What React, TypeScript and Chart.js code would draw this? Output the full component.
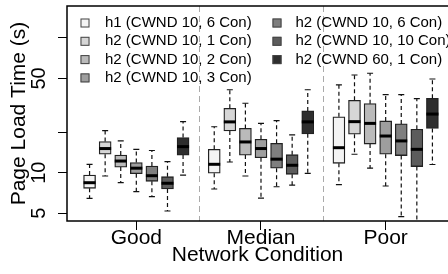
import React, { useEffect, useRef } from 'react';
import { Chart, registerables } from 'chart.js';

Chart.register(...registerables);

const FONT = '"Liberation Sans", Arial, Helvetica, sans-serif';

const categories = ['Good', 'Median', 'Poor'];
const categoryPositions = [1, 2, 3];

const seriesLabels = [
  'h1 (CWND 10, 6 Con)',
  'h2 (CWND 10, 1 Con)',
  'h2 (CWND 10, 2 Con)',
  'h2 (CWND 10, 3 Con)',
  'h2 (CWND 10, 6 Con)',
  'h2 (CWND 10, 10 Con)',
  'h2 (CWND 60, 1 Con)',
];
const seriesColors = ['#f4f4f4', '#d6d6d6', '#bababa', '#9e9e9e', '#7f7f7f', '#5c5c5c', '#2e2e2e'];

// [series][Good, Median, Poor]
const whiskerLow = [
  [6.46, 7.57, 8.15],
  [9.45, 12.0, 13.7],
  [8.43, 9.45, 10.8],
  [7.23, 6.49, 7.97],
  [6.64, 7.87, 4.72],
  [5.2, 8.1, 4.0],
  [9.61, 9.9, 11.5],
];
const quartile1 = [
  [7.66, 9.9, 11.74],
  [13.7, 20.4, 19.3],
  [11.0, 13.5, 16.3],
  [9.83, 12.9, 13.7],
  [8.63, 10.8, 13.4],
  [7.57, 9.73, 11.1],
  [13.5, 19.4, 21.3],
];
const medians = [
  [8.43, 11.54, 15.32],
  [15.1, 23.8, 23.9],
  [12.2, 16.9, 23.2],
  [10.8, 15.1, 18.7],
  [9.5, 12.6, 17.2],
  [8.35, 11.35, 14.9],
  [15.6, 23.8, 27.2],
];
const quartile3 = [
  [9.61, 14.91, 26.0],
  [17.0, 30.0, 34.4],
  [13.5, 21.3, 32.5],
  [11.9, 17.7, 24.2],
  [11.2, 16.5, 23.0],
  [9.34, 13.6, 21.0],
  [18.2, 28.7, 35.6],
];
const whiskerHigh = [
  [11.54, 21.9, 44.7],
  [20.5, 41.2, 53.0],
  [17.2, 32.7, 54.6],
  [14.9, 23.2, 37.9],
  [14.6, 24.3, 37.9],
  [12.1, 19.1, 35.4],
  [23.9, 41.2, 49.5],
];

const yTicks = [5, 10, 20, 50, 100];
const yTickLabels = ['5', '10', '', '50', ''];

const boxPlugin = {
  id: 'boxWhiskers',
  beforeDatasetsDraw(chart: any) {
    const { ctx, chartArea, scales } = chart;
    ctx.save();
    ctx.strokeStyle = '#aaaaaa';
    ctx.lineWidth = 1;
    ctx.setLineDash([6, 4]);
    [1.5, 2.5].forEach((v) => {
      const x = Math.round(scales.x.getPixelForValue(v)) + 0.5;
      ctx.beginPath();
      ctx.moveTo(x, chartArea.top);
      ctx.lineTo(x, chartArea.bottom);
      ctx.stroke();
    });
    ctx.restore();
  },
  afterDatasetsDraw(chart: any) {
    const { ctx, chartArea, scales } = chart;
    const ys = scales.y;
    ctx.save();
    ctx.beginPath();
    ctx.rect(chartArea.left, chartArea.top, chartArea.right - chartArea.left, chartArea.bottom - chartArea.top);
    ctx.clip();
    chart.data.datasets.forEach((_: any, s: number) => {
      const meta = chart.getDatasetMeta(s);
      meta.data.forEach((bar: any, k: number) => {
        const x = bar.x;
        const w = bar.width;
        const yLo = ys.getPixelForValue(whiskerLow[s][k]);
        const yQ1 = ys.getPixelForValue(quartile1[s][k]);
        const yMed = ys.getPixelForValue(medians[s][k]);
        const yQ3 = ys.getPixelForValue(quartile3[s][k]);
        const yHi = ys.getPixelForValue(whiskerHigh[s][k]);
        ctx.strokeStyle = '#111';
        ctx.lineWidth = 1.2;
        ctx.setLineDash([4, 3]);
        ctx.beginPath();
        ctx.moveTo(x, yQ3);
        ctx.lineTo(x, yHi);
        ctx.moveTo(x, yQ1);
        ctx.lineTo(x, yLo);
        ctx.stroke();
        ctx.setLineDash([]);
        ctx.beginPath();
        ctx.moveTo(x - w / 4, yHi);
        ctx.lineTo(x + w / 4, yHi);
        ctx.moveTo(x - w / 4, yLo);
        ctx.lineTo(x + w / 4, yLo);
        ctx.stroke();
        ctx.strokeStyle = '#000';
        ctx.lineWidth = 3;
        ctx.beginPath();
        ctx.moveTo(x - w / 2, yMed);
        ctx.lineTo(x + w / 2, yMed);
        ctx.stroke();
      });
    });
    ctx.restore();
  },
  afterDraw(chart: any) {
    const { ctx, chartArea } = chart;
    ctx.save();
    ctx.strokeStyle = '#000';
    ctx.lineWidth = 1.5;
    ctx.strokeRect(chartArea.left, chartArea.top, chartArea.right - chartArea.left + 2, chartArea.bottom - chartArea.top);
    // legend (two columns, column-major)
    ctx.font = `15px ${FONT}`;
    ctx.textBaseline = 'middle';
    ctx.textAlign = 'left';
    chart.data.datasets.forEach((ds: any, s: number) => {
      const col = s < 4 ? 0 : 1;
      const row = s < 4 ? s : s - 4;
      const sqX = chartArea.left + (col === 0 ? 13.5 : 205.5);
      const txtX = chartArea.left + (col === 0 ? 38 : 228.5);
      const cy = chartArea.top + 17 + row * 18.3;
      ctx.fillStyle = ds.backgroundColor;
      ctx.fillRect(sqX, cy - 4.5, 9, 9);
      ctx.strokeStyle = '#444';
      ctx.lineWidth = 1;
      ctx.strokeRect(sqX + 0.5, cy - 4, 8, 8);
      ctx.fillStyle = '#000';
      ctx.fillText(ds.label, txtX, cy);
    });
    ctx.restore();
  },
};

export default function App() {
  const canvasRef = useRef<HTMLCanvasElement>(null);

  useEffect(() => {
    if (!canvasRef.current) return;
    const datasets = seriesLabels.map((label, s) => ({
      label,
      data: categoryPositions.map((c, k) => ({
        x: c + (s - 3) * 0.125,
        y: [quartile1[s][k], quartile3[s][k]],
      })),
      backgroundColor: seriesColors[s],
      borderColor: '#222',
      borderWidth: 1.3,
      borderSkipped: false,
      barThickness: 12,
      grouped: false,
    }));

    const chart = new Chart(canvasRef.current, {
      type: 'bar',
      data: { datasets } as any,
      plugins: [boxPlugin],
      options: {
        animation: false,
        responsive: false,
        devicePixelRatio: 1,
        events: [],
        layout: { padding: { top: 6, left: 0, right: 0, bottom: 0 } },
        plugins: { legend: { display: false }, tooltip: { enabled: false } },
        scales: {
          x: {
            type: 'linear',
            min: 0.444,
            max: 3.5,
            bounds: 'data',
            offset: false,
            afterBuildTicks: (s: any) => {
              s.ticks = categoryPositions.map((v) => ({ value: v }));
            },
            afterFit: (s: any) => {
              s.height = 53;
              s.paddingLeft = 0;
              s.paddingRight = 0;
            },
            ticks: {
              autoSkip: false,
              maxRotation: 0,
              minRotation: 0,
              padding: -2,
              color: '#000',
              font: { family: FONT, size: 21, lineHeight: 1 },
              callback: (v: any) => categories[Math.round(Number(v)) - 1] ?? '',
            },
            grid: { drawOnChartArea: false, drawTicks: true, tickLength: 9, color: '#000', lineWidth: 1, offset: false },
            border: { display: false },
            title: {
              display: true,
              text: 'Network Condition',
              color: '#000',
              font: { family: FONT, size: 21 },
              padding: { top: 0, bottom: 6 },
            },
          },
          y: {
            type: 'logarithmic',
            min: 4.385,
            max: 172,
            bounds: 'data',
            afterBuildTicks: (s: any) => {
              s.ticks = yTicks.map((v) => ({ value: v }));
            },
            afterFit: (s: any) => {
              s.width = 67;
              s.paddingTop = 0;
              s.paddingBottom = 0;
            },
            ticks: {
              autoSkip: false,
              minRotation: 90,
              maxRotation: 90,
              crossAlign: 'center',
              padding: 7,
              color: '#000',
              font: { family: FONT, size: 20 },
              callback: (_v: any, i: number) => yTickLabels[i] ?? '',
            },
            grid: { drawOnChartArea: false, drawTicks: true, tickLength: 9, color: '#000', lineWidth: 1 },
            border: { display: false },
            title: {
              display: true,
              text: 'Page Load Time (s)',
              color: '#000',
              font: { family: FONT, size: 21 },
              padding: { top: 7, bottom: 0 },
            },
          },
        },
      } as any,
    });
    return () => chart.destroy();
  }, []);

  return (
    <div style={{ position: 'fixed', left: 0, top: 0, width: 448, height: 274, background: '#fff' }}>
      <canvas ref={canvasRef} width={448} height={274} style={{ display: 'block' }} />
    </div>
  );
}
